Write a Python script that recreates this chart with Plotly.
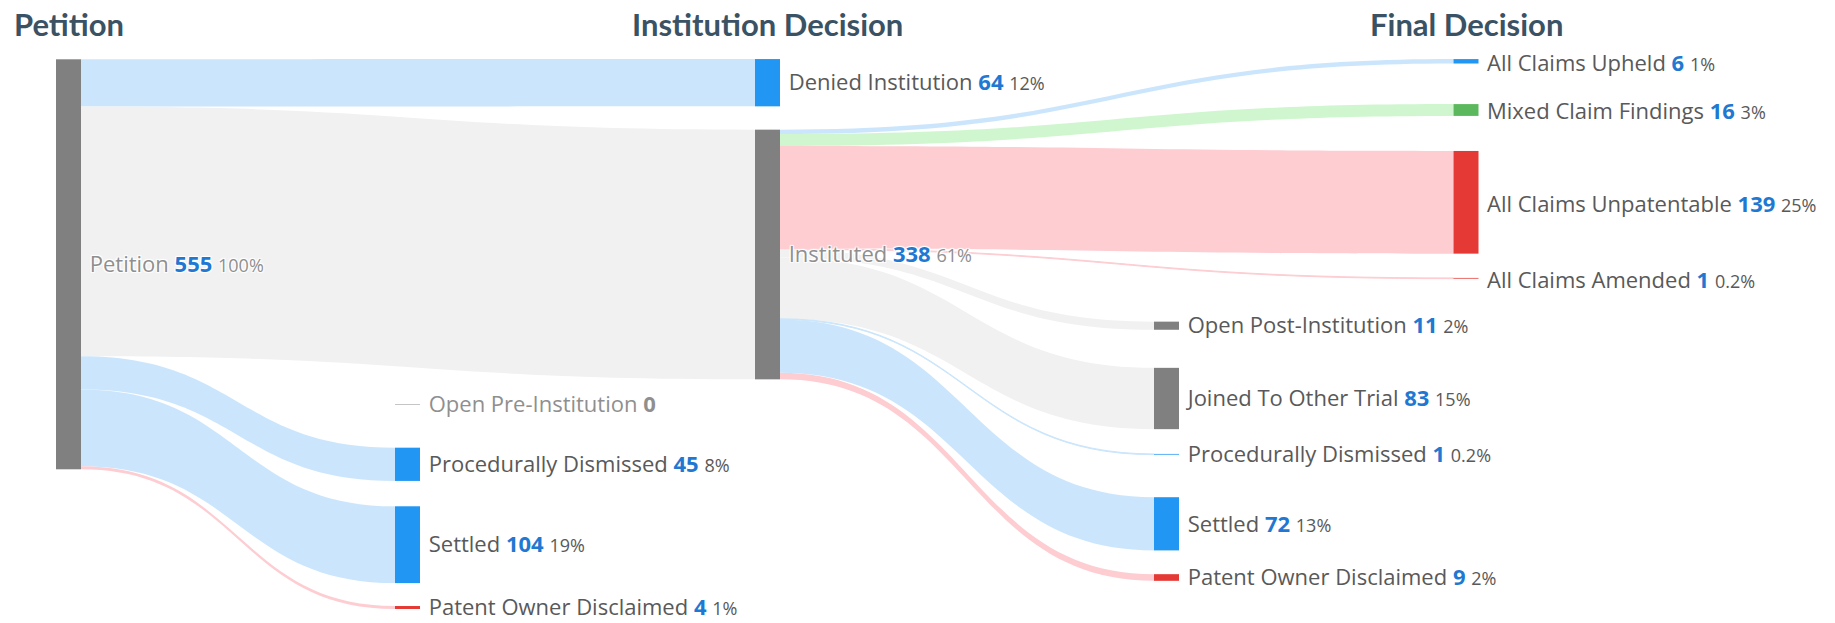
import plotly.graph_objects as go

# ---------------- data ----------------
node_names = [
    "Petition", "Denied Institution", "Instituted", "Open Pre-Institution",
    "Procedurally Dismissed", "Settled", "Patent Owner Disclaimed",
    "All Claims Upheld", "Mixed Claim Findings", "All Claims Unpatentable",
    "All Claims Amended", "Open Post-Institution", "Joined To Other Trial",
    "Procedurally Dismissed", "Settled", "Patent Owner Disclaimed",
]
node_values = [555, 64, 338, 0, 45, 104, 4, 6, 16, 139, 1, 11, 83, 1, 72, 9]
node_pcts = ["100%", "12%", "61%", "", "8%", "19%", "1%", "1%", "3%", "25%",
             "0.2%", "2%", "15%", "0.2%", "13%", "2%"]

link_source = [0, 0, 0, 0, 0, 0, 2, 2, 2, 2, 2, 2, 2, 2, 2]
link_target = [1, 2, 3, 4, 5, 6, 7, 8, 9, 10, 11, 12, 13, 14, 15]
link_value = [64, 338, 0, 45, 104, 4, 6, 16, 139, 1, 11, 83, 1, 72, 9]

column_titles = ["Petition", "Institution Decision", "Final Decision"]

# ---------------- styles / layout ----------------
PAGE_W, PAGE_H = 1835, 623
OFF = 8                      # default page (body) margin of the html page
W, H = PAGE_W - OFF, PAGE_H - OFF
THICK = 25

GRAY, BLUE, GREEN, RED = "#808080", "#2196f3", "#5cb85c", "#e53935"
node_colors = [GRAY, BLUE, GRAY, "#8a8a8a", BLUE, BLUE, RED,
               BLUE, GREEN, RED, RED, GRAY, GRAY, BLUE, BLUE, RED]
L_BLUE, L_GRAY, L_GREEN, L_RED = "#cbe6fc", "#f1f1f1", "#d0f6d0", "#fdcdd2"
NONE = "rgba(0,0,0,0)"
link_colors = [L_BLUE, L_GRAY, NONE, L_BLUE, L_BLUE, L_RED,
               L_BLUE, L_GREEN, L_RED, L_RED, L_GRAY, L_GRAY, L_BLUE, L_BLUE, L_RED]
light_label = {0, 2, 3}

# node centre positions (page pixels)
col_x = [68.5, 407.5, 767.5, 1166.5, 1466.0]
node_col = [0, 2, 2, 1, 1, 1, 1, 4, 4, 4, 4, 3, 3, 3, 3, 3]
node_cy = [264.3, 82.7, 254.5, 404.3, 464.3, 544.7, 607.5,
           61.3, 110.0, 202.3, 278.3, 325.7, 398.5, 454.3, 523.8, 577.5]
node_x = [(col_x[c] - OFF) / W for c in node_col]
node_y = [(cy - OFF) / H for cy in node_cy]
title_cols = [0, 2, 4]
LAST_COL = 4

NUM_BLUE = "#1f78d1"
FONT = "Open Sans"
NAME_SIZE, PCT_SIZE = 22, 18


def label_html(i, lead=True):
    name_col = "#8f8f8f" if i in light_label else "#595959"
    num_col = "#8f8f8f" if node_values[i] == 0 else NUM_BLUE
    txt = ("\u00a0" if lead else "") + (
        f"<span style='color:{name_col}'>{node_names[i]}</span> "
        f"<b><span style='color:{num_col}'>{node_values[i]}</span></b>")
    if node_pcts[i]:
        txt += f" <span style='color:{name_col};font-size:{PCT_SIZE}px'>{node_pcts[i]}</span>"
    return txt


sankey_labels = [label_html(i) if node_col[i] != LAST_COL else ""
                 for i in range(len(node_names))]

# zero-valued flow drawn as a hairline node
draw_values = [v if v > 0 else 0.01 for v in link_value]

ky = 410.0 / 555.0
pad = (H - ky * 555) / 5.0

fig = go.Figure(go.Sankey(
    arrangement="fixed",
    domain=dict(x=[0, 1], y=[0, 1]),
    node=dict(
        label=sankey_labels,
        x=node_x,
        y=node_y,
        color=node_colors,
        thickness=THICK,
        pad=pad,
        align="left",
        line=dict(color="white", width=0),
        hoverinfo="skip",
    ),
    link=dict(
        source=link_source,
        target=link_target,
        value=draw_values,
        color=link_colors,
        line=dict(color="white", width=0),
        hoverinfo="skip",
    ),
    textfont=dict(family=FONT, size=NAME_SIZE, color="#595959"),
))

# labels of the last column, to the right of their nodes
for i in range(len(node_names)):
    if node_col[i] == LAST_COL:
        fig.add_annotation(
            text=label_html(i, lead=False),
            x=(col_x[LAST_COL] - OFF + THICK / 2 + 6) / W,
            y=1 - (node_cy[i] - OFF + 0.5) / H,
            xref="paper", yref="paper", xanchor="left", yanchor="middle",
            showarrow=False, font=dict(family=FONT, size=NAME_SIZE, color="#595959"),
        )

for t, c in zip(column_titles, title_cols):
    fig.add_annotation(
        text=f"<b>{t}</b>", x=(col_x[c] - OFF) / W, y=1 - 16 / H,
        xref="paper", yref="paper", xanchor="center", yanchor="middle",
        showarrow=False, font=dict(family="Lato", size=31, color="#3a5264"),
    )

fig.update_layout(
    width=W, height=H,
    margin=dict(l=0, r=0, t=0, b=0),
    paper_bgcolor="white", plot_bgcolor="white",
)

fig.write_html("out.html")
